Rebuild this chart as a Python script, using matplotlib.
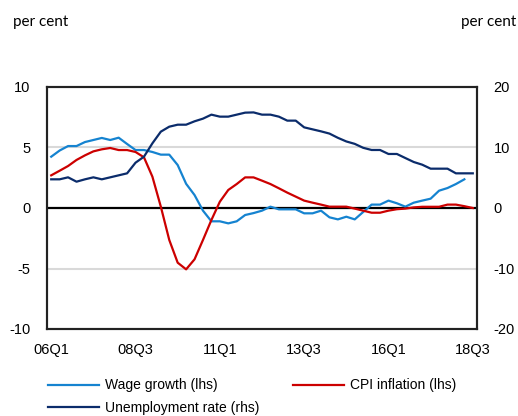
import numpy as np
import matplotlib
matplotlib.use("Agg")
import matplotlib.pyplot as plt
from matplotlib import font_manager
from matplotlib.lines import Line2D

# Quarters 2006Q1 .. 2018Q3
quarters = [f"{y % 100:02d}Q{q}" for y in range(2006, 2019) for q in range(1, 5)][:51]
tick_labels = ["06Q1", "08Q3", "11Q1", "13Q3", "16Q1", "18Q3"]

# Wage growth (lhs), per cent
wage_growth = [4.24, 4.75, 5.12, 5.12, 5.45, 5.62, 5.79, 5.62, 5.81, 5.29,
               4.79, 4.79, 4.63, 4.41, 4.41, 3.55, 2.0, 1.07, -0.22, -1.1,
               -1.1, -1.27, -1.1, -0.58, -0.42, -0.22, 0.11, -0.11, -0.11, -0.11,
               -0.44, -0.44, -0.22, -0.77, -0.94, -0.72, -0.94, -0.33, 0.28, 0.28,
               0.61, 0.39, 0.11, 0.44, 0.61, 0.77, 1.43, 1.65, 1.98, 2.37,
               np.nan]

# CPI inflation (lhs), per cent
cpi_inflation = [2.7, 3.08, 3.47, 3.97, 4.35, 4.68, 4.85, 4.96, 4.79, 4.79,
                 4.63, 4.19, 2.59, 0.11, -2.64, -4.52, -5.07, -4.24, -2.64, -0.99,
                 0.52, 1.49, 1.98, 2.53, 2.53, 2.26, 1.98, 1.63, 1.27, 0.94,
                 0.61, 0.44, 0.28, 0.11, 0.11, 0.11, -0.05, -0.22, -0.39, -0.39,
                 -0.22, -0.1, -0.05, 0.05, 0.1, 0.1, 0.1, 0.28, 0.28, 0.15,
                 0.0]

# Unemployment rate (rhs), per cent
unemployment = [4.74, 4.74, 5.07, 4.35, 4.74, 5.07, 4.74, 5.07, 5.4, 5.73,
                7.49, 8.48, 10.69, 12.62, 13.44, 13.77, 13.77, 14.33, 14.77, 15.43,
                15.1, 15.1, 15.43, 15.76, 15.8, 15.43, 15.43, 15.1, 14.44, 14.44,
                13.33, 13.0, 12.67, 12.3, 11.6, 11.0, 10.6, 9.95, 9.59, 9.59,
                8.93, 8.93, 8.26, 7.6, 7.16, 6.5, 6.5, 6.5, 5.73, 5.73,
                5.73]

names = {f.name for f in font_manager.fontManager.ttflist}
narrow = "Liberation Sans Narrow" if "Liberation Sans Narrow" in names else "Liberation Sans"
plt.rcParams["font.family"] = ["Liberation Sans", "DejaVu Sans"]
plt.rcParams["axes.unicode_minus"] = False

c_wage = "#1583d0"
c_cpi = "#cc0000"
c_unemp = "#0b2c6b"

x = np.arange(len(quarters))

fig = plt.figure(figsize=(5.18, 4.16), dpi=100)
ax = fig.add_axes([47 / 518, 87 / 416, 430 / 518, 242 / 416])
ax2 = ax.twinx()

# gridlines and zero line
for v in (-5, 5):
    ax.axhline(v, color="#d9d9d9", lw=1.5, zorder=0)
ax.axhline(0, color="black", lw=1.6, zorder=1)

ax.plot(x, wage_growth, color=c_wage, lw=1.6, zorder=3)
ax.plot(x, cpi_inflation, color=c_cpi, lw=1.6, zorder=3)
ax2.plot(x, unemployment, color=c_unemp, lw=1.6, zorder=3)

ax.set_xlim(-0.5, len(x) - 0.5)
ax.set_ylim(-10, 10)
ax2.set_ylim(-20, 20)
ax.set_yticks([-10, -5, 0, 5, 10])
ax2.set_yticks([-20, -10, 0, 10, 20])
ax.set_xticks([quarters.index(t) for t in tick_labels])
ax.set_xticklabels(tick_labels)

ax.tick_params(axis="both", length=0, labelsize=10.5, colors="black")
ax.tick_params(axis="x", pad=10)
ax.tick_params(axis="y", pad=12)
ax2.tick_params(axis="y", length=0, labelsize=10.5, pad=12)

for a in (ax, ax2):
    for s in a.spines.values():
        s.set_linewidth(1.5)
        s.set_color("#222222")

fig.text(13 / 518, 1 - 22 / 416, "per cent", family=["Lato", "DejaVu Sans"],
         fontsize=11, va="center", ha="left")
fig.text(516 / 518, 1 - 22 / 416, "per cent", family=["Lato", "DejaVu Sans"],
         fontsize=11, va="center", ha="right")

handles = [Line2D([], [], color=c_wage, lw=1.6),
           Line2D([], [], color=c_unemp, lw=1.6),
           Line2D([], [], color=c_cpi, lw=1.6)]
labels = ["Wage growth (lhs)", "Unemployment rate (rhs)", "CPI inflation (lhs)"]
fig.legend(handles, labels, ncol=2, loc="upper left",
           bbox_to_anchor=(35 / 518, 1 - 366 / 416), frameon=False,
           handlelength=3.7, handletextpad=0.45, columnspacing=2.4,
           labelspacing=0.6, prop={"family": narrow, "size": 10})

fig.savefig("out.png", dpi=100)
